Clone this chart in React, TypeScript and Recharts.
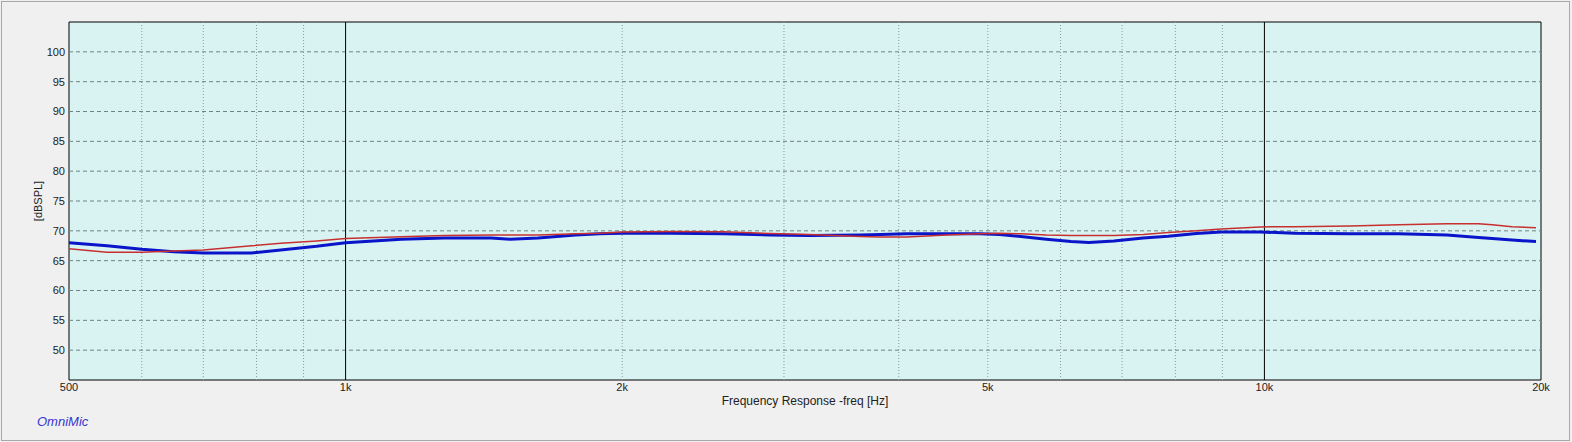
import React from 'react';
import {
  LineChart,
  Line,
  XAxis,
  YAxis,
  ReferenceArea,
  ReferenceLine,
} from 'recharts';

// frequency points [Hz]
const FREQS = [
  500, 550, 600, 650, 700, 790, 850, 930, 1000, 1150, 1280, 1440, 1510, 1620, 1780, 1890,
  2000, 2250, 2580, 2900, 3200, 3630, 3820, 4080, 4510, 4900, 5150, 5430, 5790, 6160, 6440,
  6860, 7380, 7860, 8430, 8970, 9890, 10800, 12400, 14000, 15800, 16700, 17100, 17700, 18600,
  19750,
];

// blue trace [dBSPL]
const BLUE = [
  68.0, 67.5, 66.9, 66.5, 66.3, 66.3, 66.8, 67.4, 68.0, 68.6, 68.8, 68.8, 68.6, 68.8, 69.3, 69.5,
  69.6, 69.6, 69.5, 69.3, 69.2, 69.3, 69.4, 69.5, 69.5, 69.5, 69.4, 69.05, 68.6, 68.2, 68.05,
  68.3, 68.8, 69.1, 69.55, 69.8, 69.8, 69.6, 69.5, 69.5, 69.3, 69.0, 68.9, 68.7, 68.45,
  68.2,
];

// red trace [dBSPL]
const RED = [
  67.0, 66.4, 66.4, 66.6, 66.8, 67.5, 67.9, 68.3, 68.7, 69.0, 69.2, 69.3, 69.3, 69.3, 69.5, 69.6,
  69.8, 69.9, 69.85, 69.55, 69.4, 69.05, 68.95, 68.95, 69.3, 69.5, 69.6, 69.5, 69.3, 69.2, 69.2,
  69.2, 69.4, 69.7, 70.0, 70.3, 70.65, 70.7, 70.8, 71.0, 71.2, 71.2, 71.2, 71.0, 70.7,
  70.5,
];

const X_TICKS = [500, 1000, 2000, 5000, 10000, 20000];
const X_TICK_LABELS = ['500', '1k', '2k', '5k', '10k', '20k'];
const Y_TICKS = [50, 55, 60, 65, 70, 75, 80, 85, 90, 95, 100];
const MINOR_X = [600, 700, 800, 900, 2000, 3000, 4000, 5000, 6000, 7000, 8000, 9000];
const MAJOR_X = [1000, 10000];

const FONT = '"Liberation Sans", Arial, sans-serif';

export default function App() {
  const data = FREQS.map((f, i) => ({ f, blue: BLUE[i], red: RED[i] }));

  return (
    <div
      style={{
        position: 'relative',
        width: 1572,
        height: 442,
        background: '#f0f0f0',
        fontFamily: FONT,
      }}
    >
      <style>{'body{margin:0}'}</style>
      <div
        style={{
          position: 'absolute',
          left: 1,
          top: 1,
          width: 1569,
          height: 440,
          border: '1px solid #a8a8a8',
          boxSizing: 'border-box',
        }}
      />
      <div style={{ position: 'absolute', left: 0, top: 0 }}>
        <LineChart
          width={1572}
          height={442}
          data={data}
          margin={{ top: 22, right: 31, left: 29, bottom: 32 }}
        >
          <XAxis
            dataKey="f"
            type="number"
            scale="log"
            domain={[500, 20000]}
            ticks={X_TICKS}
            tickFormatter={(v: number) => X_TICK_LABELS[X_TICKS.indexOf(v)] ?? ''}
            allowDataOverflow
            height={30}
            axisLine={false}
            tickLine={false}
            tickSize={0}
            tickMargin={3}
            tick={{ fontSize: 11, fill: '#222', fontFamily: FONT }}
          />
          <YAxis
            type="number"
            domain={[45, 105]}
            ticks={Y_TICKS}
            width={40}
            axisLine={false}
            tickLine={false}
            tickSize={0}
            tickMargin={4}
            tick={{ fontSize: 11, fill: '#222', fontFamily: FONT }}
          />
          {/* plot background + frame */}
          <ReferenceArea
            x1={500}
            x2={20000}
            y1={45}
            y2={105}
            fill="#d9f3f3"
            fillOpacity={1}
            stroke="#000"
            strokeWidth={1}
          />
          {Y_TICKS.map((v) => (
            <ReferenceLine key={`h${v}`} y={v} stroke="#6f8383" strokeDasharray="4 3" />
          ))}
          {MINOR_X.map((v) => (
            <ReferenceLine key={`m${v}`} x={v} stroke="#8a9c9c" strokeDasharray="1 2" />
          ))}
          {MAJOR_X.map((v) => (
            <ReferenceLine key={`M${v}`} x={v} stroke="#000" />
          ))}
          <Line
            type="linear"
            dataKey="blue"
            stroke="#0a14c8"
            strokeWidth={3}
            dot={false}
            isAnimationActive={false}
          />
          <Line
            type="linear"
            dataKey="red"
            stroke="#c83030"
            strokeWidth={1.5}
            dot={false}
            isAnimationActive={false}
          />
        </LineChart>
      </div>
      <div
        style={{
          position: 'absolute',
          left: 38,
          top: 201,
          transform: 'translate(-50%, -50%) rotate(-90deg)',
          fontSize: 11,
          color: '#222',
          whiteSpace: 'nowrap',
        }}
      >
        [dBSPL]
      </div>
      <div
        style={{
          position: 'absolute',
          left: 805,
          top: 401,
          transform: 'translate(-50%, -50%)',
          fontSize: 12,
          color: '#222',
          whiteSpace: 'nowrap',
        }}
      >
        Frequency Response -freq [Hz]
      </div>
      <div
        style={{
          position: 'absolute',
          left: 37,
          top: 421,
          transform: 'translateY(-50%)',
          fontSize: 13,
          fontStyle: 'italic',
          color: '#3535d0',
          whiteSpace: 'nowrap',
        }}
      >
        OmniMic
      </div>
    </div>
  );
}
